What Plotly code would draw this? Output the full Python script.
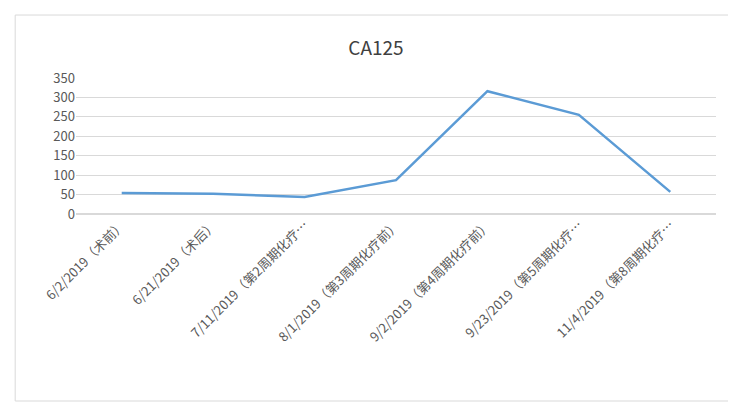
import plotly.graph_objects as go

dates = ["6/2/2019（术前）", "6/21/2019（术后）", "7/11/2019（第2周期化疗…",
         "8/1/2019（第3周期化疗前）", "9/2/2019（第4周期化疗前）",
         "9/23/2019（第5周期化疗…", "11/4/2019（第8周期化疗…"]
ca125 = [54, 52, 44, 87, 316, 255, 57]
y_ticks = [0, 50, 100, 150, 200, 250, 300, 350]

fig = go.Figure(go.Scatter(
    x=dates, y=ca125, mode="lines",
    line=dict(color="#5B9BD5", width=2.5),
))

fig.update_layout(
    width=736, height=402,
    margin=dict(l=68, r=28, t=70, b=196, autoexpand=False),
    paper_bgcolor="white", plot_bgcolor="white",
    font=dict(family="Noto Sans CJK SC, Liberation Sans", size=13, color="#595959"),
    title=dict(text="CA125", x=0.5, xanchor="center", y=0.915,
               font=dict(size=19, color="#404040")),
    showlegend=False,
    xaxis=dict(tickangle=-45, showgrid=False, showline=False, ticks="",
               range=[-0.5, 6.5], automargin=False),
    yaxis=dict(range=[0, 350], tickvals=y_ticks, gridcolor="#D9D9D9",
               zeroline=True, zerolinecolor="#D9D9D9", ticks="", automargin=False),
    shapes=[dict(type="rect", xref="paper", yref="paper",
                 x0=-0.095, x1=1.03, y0=-1.375, y1=1.463,
                 line=dict(color="#D9D9D9", width=1))],
)

fig.write_html("out.html")
